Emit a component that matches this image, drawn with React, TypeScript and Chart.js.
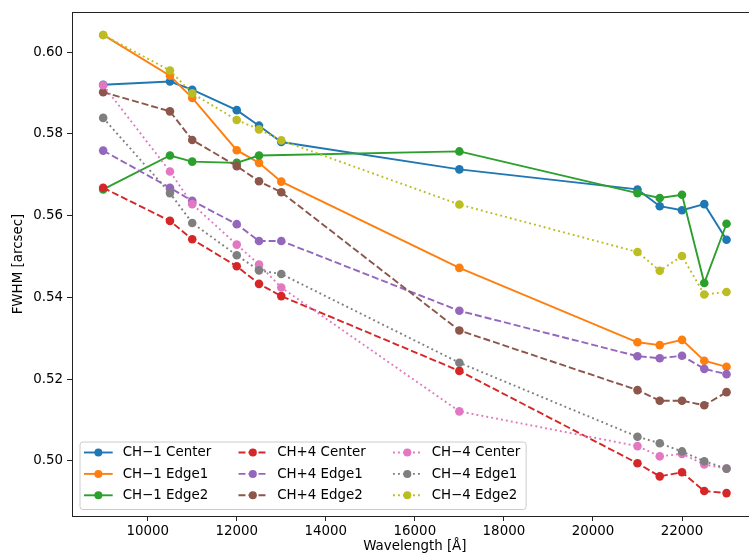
import React, { useEffect, useRef } from "react";
import { Chart, registerables } from "chart.js";

Chart.register(...registerables);

// ---------- data ----------
const wavelengths = [9000, 10500, 11000, 12000, 12500, 13000, 17000, 21000, 21500, 22000, 22500, 23000];

const ch1Center = [0.5920, 0.5928, 0.5908, 0.5858, 0.5820, 0.5780, 0.5713, 0.5664, 0.5623, 0.5613, 0.5628, 0.5541];
const ch1Edge1 = [0.6042, 0.5942, 0.5888, 0.5760, 0.5729, 0.5683, 0.5472, 0.5290, 0.5283, 0.5296, 0.5245, 0.5230];
const ch1Edge2 = [0.5664, 0.5747, 0.5732, 0.5729, 0.5747, null, 0.5757, 0.5655, 0.5643, 0.5651, 0.5435, 0.5580];
const chp4Center = [0.5668, 0.5587, 0.5542, 0.5476, 0.5433, 0.5403, 0.5220, 0.4994, 0.4962, 0.4972, 0.4926, 0.4921];
const chp4Edge1 = [0.5759, 0.5668, 0.5636, 0.5579, 0.5538, 0.5538, 0.5367, 0.5256, 0.5251, 0.5257, 0.5225, 0.5212];
const chp4Edge2 = [0.5902, 0.5855, 0.5785, 0.5721, 0.5684, 0.5657, 0.5319, 0.5173, 0.5147, 0.5147, 0.5136, 0.5168];
const chm4Center = [0.5919, 0.5708, 0.5628, 0.5529, 0.5480, 0.5424, 0.5121, 0.5036, 0.5011, 0.5017, 0.4991, 0.4981];
const chm4Edge1 = [0.5839, 0.5655, 0.5582, 0.5503, 0.5466, 0.5457, 0.5240, 0.5059, 0.5043, 0.5023, 0.4999, 0.4981];
const chm4Edge2 = [0.6042, 0.5955, 0.5899, 0.5834, 0.5811, 0.5784, 0.5627, 0.5511, 0.5465, 0.5501, 0.5407, 0.5413];

const seriesLabels = [
  "CH\u22121 Center", "CH\u22121 Edge1", "CH\u22121 Edge2",
  "CH+4 Center", "CH+4 Edge1", "CH+4 Edge2",
  "CH\u22124 Center", "CH\u22124 Edge1", "CH\u22124 Edge2",
];
const seriesValues = [ch1Center, ch1Edge1, ch1Edge2, chp4Center, chp4Edge1, chp4Edge2, chm4Center, chm4Edge1, chm4Edge2];

const xTicks = [10000, 12000, 14000, 16000, 18000, 20000, 22000];
const yTicks = [0.50, 0.52, 0.54, 0.56, 0.58, 0.60];

// ---------- styles ----------
const colors = ["#1f77b4", "#ff7f0e", "#2ca02c", "#d62728", "#9467bd", "#8c564b", "#e377c2", "#7f7f7f", "#bcbd22"];
const SOLID: number[] = [];
const DASHED = [7, 3];
const DOTTED = [1.9, 3.1];
const dashes = [SOLID, SOLID, SOLID, DASHED, DASHED, DASHED, DOTTED, DOTTED, DOTTED];
const LINE_W = 1.9;
const PT_R = 4.3;
const FONT = "'DejaVu Sans', sans-serif";
const FONT_SIZE = 13.4;
const AXIS_COLOR = "#222";

const frameLegendPlugin = {
  id: "frameLegend",
  afterDraw(chart: any) {
    const ctx = chart.ctx as CanvasRenderingContext2D;
    const ca = chart.chartArea;
    ctx.save();
    // top spine
    ctx.strokeStyle = AXIS_COLOR;
    ctx.lineWidth = 1;
    ctx.beginPath();
    ctx.moveTo(ca.left, Math.round(ca.top) + 0.5);
    ctx.lineTo(ca.right, Math.round(ca.top) + 0.5);
    ctx.stroke();

    // legend
    ctx.font = `${FONT_SIZE}px ${FONT}`;
    const bw = [0, 1, 2].map((c) =>
      Math.max(...[0, 1, 2].map((r) => ctx.measureText(seriesLabels[c * 3 + r]).width))
    );
    const left = ca.left + 8;
    const bottom = ca.bottom - 6.5;
    const height = 67.5;
    const top = bottom - height;
    const handleLen = 28.7;
    const textGap = 10;
    const colGap = 27.3;
    const padL = 4;
    const colX: number[] = [];
    let x = left + padL;
    for (let c = 0; c < 3; c++) {
      colX.push(x);
      x = x + handleLen + textGap + bw[c] + colGap;
    }
    const right = colX[2] + handleLen + textGap + bw[2] + 6;
    const rowY = [top + 10.5, top + 31.9, top + 53.3];

    const r = 3;
    ctx.beginPath();
    ctx.moveTo(left + r, top);
    ctx.lineTo(right - r, top);
    ctx.quadraticCurveTo(right, top, right, top + r);
    ctx.lineTo(right, bottom - r);
    ctx.quadraticCurveTo(right, bottom, right - r, bottom);
    ctx.lineTo(left + r, bottom);
    ctx.quadraticCurveTo(left, bottom, left, bottom - r);
    ctx.lineTo(left, top + r);
    ctx.quadraticCurveTo(left, top, left + r, top);
    ctx.closePath();
    ctx.fillStyle = "rgba(255,255,255,0.8)";
    ctx.fill();
    ctx.strokeStyle = "#cccccc";
    ctx.lineWidth = 1;
    ctx.stroke();

    for (let i = 0; i < 9; i++) {
      const c = Math.floor(i / 3);
      const rr = i % 3;
      const hx = colX[c];
      const hy = rowY[rr];
      ctx.strokeStyle = colors[i];
      ctx.lineWidth = LINE_W;
      ctx.setLineDash(dashes[i]);
      ctx.beginPath();
      ctx.moveTo(hx, hy);
      ctx.lineTo(hx + handleLen, hy);
      ctx.stroke();
      ctx.setLineDash([]);
      ctx.fillStyle = colors[i];
      ctx.beginPath();
      ctx.arc(hx + handleLen / 2, hy, PT_R - 0.3, 0, Math.PI * 2);
      ctx.fill();
      ctx.fillStyle = "#000";
      ctx.textBaseline = "middle";
      ctx.textAlign = "left";
      ctx.fillText(seriesLabels[i], hx + handleLen + textGap, hy + 0.5);
    }
    ctx.restore();
  },
};

export default function App() {
  const ref = useRef<HTMLCanvasElement | null>(null);

  useEffect(() => {
    if (!ref.current) return;
    const datasets = seriesLabels.map((label, i) => ({
      label,
      data: wavelengths.map((w, k) => ({ x: w, y: seriesValues[i][k] })),
      borderColor: colors[i],
      backgroundColor: colors[i],
      pointBackgroundColor: colors[i],
      pointBorderColor: colors[i],
      pointBorderWidth: 0,
      pointRadius: PT_R,
      pointHoverRadius: PT_R,
      borderWidth: LINE_W,
      borderDash: dashes[i],
      spanGaps: true,
      fill: false,
      tension: 0,
      order: 20 - i,
    }));

    const chart = new Chart(ref.current, {
      type: "line",
      data: { datasets },
      plugins: [frameLegendPlugin],
      options: {
        animation: false,
        responsive: false,
        devicePixelRatio: 1,
        layout: { padding: { top: 10, right: 1, left: 0, bottom: 0 } },
        plugins: { legend: { display: false }, tooltip: { enabled: false } },
        scales: {
          x: {
            type: "linear",
            min: 8300,
            max: 23700,
            afterFit: (s: any) => { s.height = 40; },
            afterBuildTicks: (s: any) => { s.ticks = xTicks.map((v) => ({ value: v })); },
            ticks: {
              callback: (v: any) => String(v),
              color: "#000",
              font: { family: FONT, size: FONT_SIZE },
              padding: 2,
              maxRotation: 0,
              autoSkip: false,
            },
            grid: { display: true, drawOnChartArea: false, drawTicks: true, tickLength: 5, color: AXIS_COLOR },
            border: { display: true, color: AXIS_COLOR, width: 1 },
            title: {
              display: true,
              text: "Wavelength [\u00c5]",
              color: "#000",
              font: { family: FONT, size: FONT_SIZE },
              padding: { top: 0, bottom: 1 },
            },
          },
          y: {
            type: "linear",
            min: 0.4865,
            max: 0.6098,
            afterFit: (s: any) => { s.width = 72; },
            afterBuildTicks: (s: any) => { s.ticks = yTicks.map((v) => ({ value: v })); },
            ticks: {
              callback: (v: any) => Number(v).toFixed(2),
              color: "#000",
              font: { family: FONT, size: FONT_SIZE },
              padding: 4,
              autoSkip: false,
            },
            grid: { display: true, drawOnChartArea: false, drawTicks: true, tickLength: 5, color: AXIS_COLOR },
            border: { display: true, color: AXIS_COLOR, width: 1 },
            title: {
              display: true,
              text: "FWHM [arcsec]",
              color: "#000",
              font: { family: FONT, size: FONT_SIZE },
              padding: { top: 10, bottom: 0 },
            },
          },
        },
      },
    } as any);
    return () => chart.destroy();
  }, []);

  return (
    <div
      style={{
        position: "fixed",
        left: 0,
        top: 0,
        width: 749,
        height: 556,
        overflow: "hidden",
        background: "#fff",
      }}
    >
      <canvas ref={ref} width={762} height={556} style={{ display: "block", width: 762, height: 556 }} />
    </div>
  );
}
